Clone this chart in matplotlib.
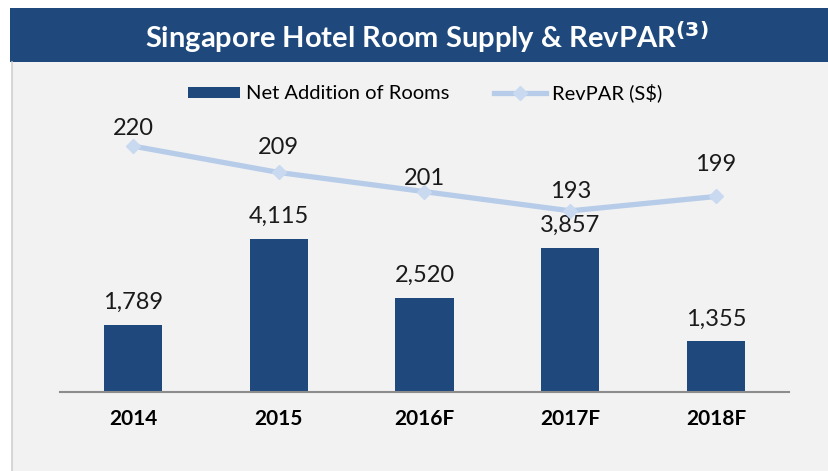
import matplotlib.pyplot as plt
from matplotlib.patches import Rectangle
from matplotlib.lines import Line2D

years = ["2014", "2015", "2016F", "2017F", "2018F"]
rooms = [1789, 4115, 2520, 3857, 1355]
revpar = [220, 209, 201, 193, 199]

DARK = "#1f497d"
LIGHT = "#b7cce8"
PANEL = "#f2f2f2"

plt.rcParams["font.family"] = ["Lato", "DejaVu Sans"]

fig = plt.figure(figsize=(8.29, 4.71), dpi=100)
fig.patch.set_facecolor("white")

# grey panel and title banner, kept behind the axes
fig.add_artist(Rectangle((12 / 829, 0), 1, 1 - 62 / 471, transform=fig.transFigure,
                         facecolor=PANEL, edgecolor="none", zorder=-2))
fig.add_artist(Line2D([12 / 829, 12 / 829], [0, 1 - 62 / 471], transform=fig.transFigure,
                      color="#d0d0d0", linewidth=1.2, zorder=-1))
fig.add_artist(Rectangle((10 / 829, 1 - 62 / 471), 1, 54 / 471, transform=fig.transFigure,
                         facecolor=DARK, edgecolor="none", zorder=-2))
fig.text(427 / 829, 1 - 37 / 471, r"Singapore Hotel Room Supply & RevPAR$^{\mathbf{(3)}}$",
         color="white", fontsize=21, fontweight="bold", ha="center", va="center")

ax = fig.add_axes([60 / 829, 1 - 392 / 471, 729 / 829, 292 / 471])
ax.set_facecolor("none")
x = range(len(years))
bars = ax.bar(x, rooms, width=0.40, color=DARK, label="Net Addition of Rooms", zorder=2)
ax.set_xlim(-0.5, 4.5)
ax.set_ylim(0, 7830)
ax.set_yticks([])
for s in ["top", "right", "left"]:
    ax.spines[s].set_visible(False)
ax.spines["bottom"].set_color("#8c8c8c")
ax.spines["bottom"].set_linewidth(1.5)
ax.set_xticks(list(x))
ax.set_xticklabels(years, fontsize=15, fontweight="bold")
ax.tick_params(axis="x", length=0, pad=12)

for b, v in zip(bars, rooms):
    ax.annotate(f"{v:,}", (b.get_x() + b.get_width() / 2, v), xytext=(0, 11.5),
                textcoords="offset points", ha="center", va="baseline",
                fontsize=17, color="#1a1a1a")

ax2 = ax.twinx()
ax2.set_ylim(117.5, 239.2)
ax2.set_yticks([])
for s in ax2.spines.values():
    s.set_visible(False)
ax2.plot(list(x), revpar, color=LIGHT, linewidth=3.8, marker="D", markersize=7,
         markerfacecolor="#c8d9f0", markeredgecolor="#c8d9f0",
         label="RevPAR (S$)", zorder=3)
offsets = [8, 13, 5, 9, 18]
for i, (v, off) in enumerate(zip(revpar, offsets)):
    ax2.annotate(str(v), (i, v), xytext=(0, off), textcoords="offset points",
                 ha="center", va="baseline", fontsize=17, color="#1a1a1a")

handles = [bars, ax2.get_lines()[0]]
fig.legend(handles, ["Net Addition of Rooms", "RevPAR (S$)"], loc="center",
           bbox_to_anchor=(425 / 829, 1 - 93 / 471), ncol=2, frameon=False,
           fontsize=14.5, handlelength=2.6, handleheight=0.5, columnspacing=2.2,
           handletextpad=0.3)

fig.savefig("out.png", dpi=100, facecolor=fig.get_facecolor())
